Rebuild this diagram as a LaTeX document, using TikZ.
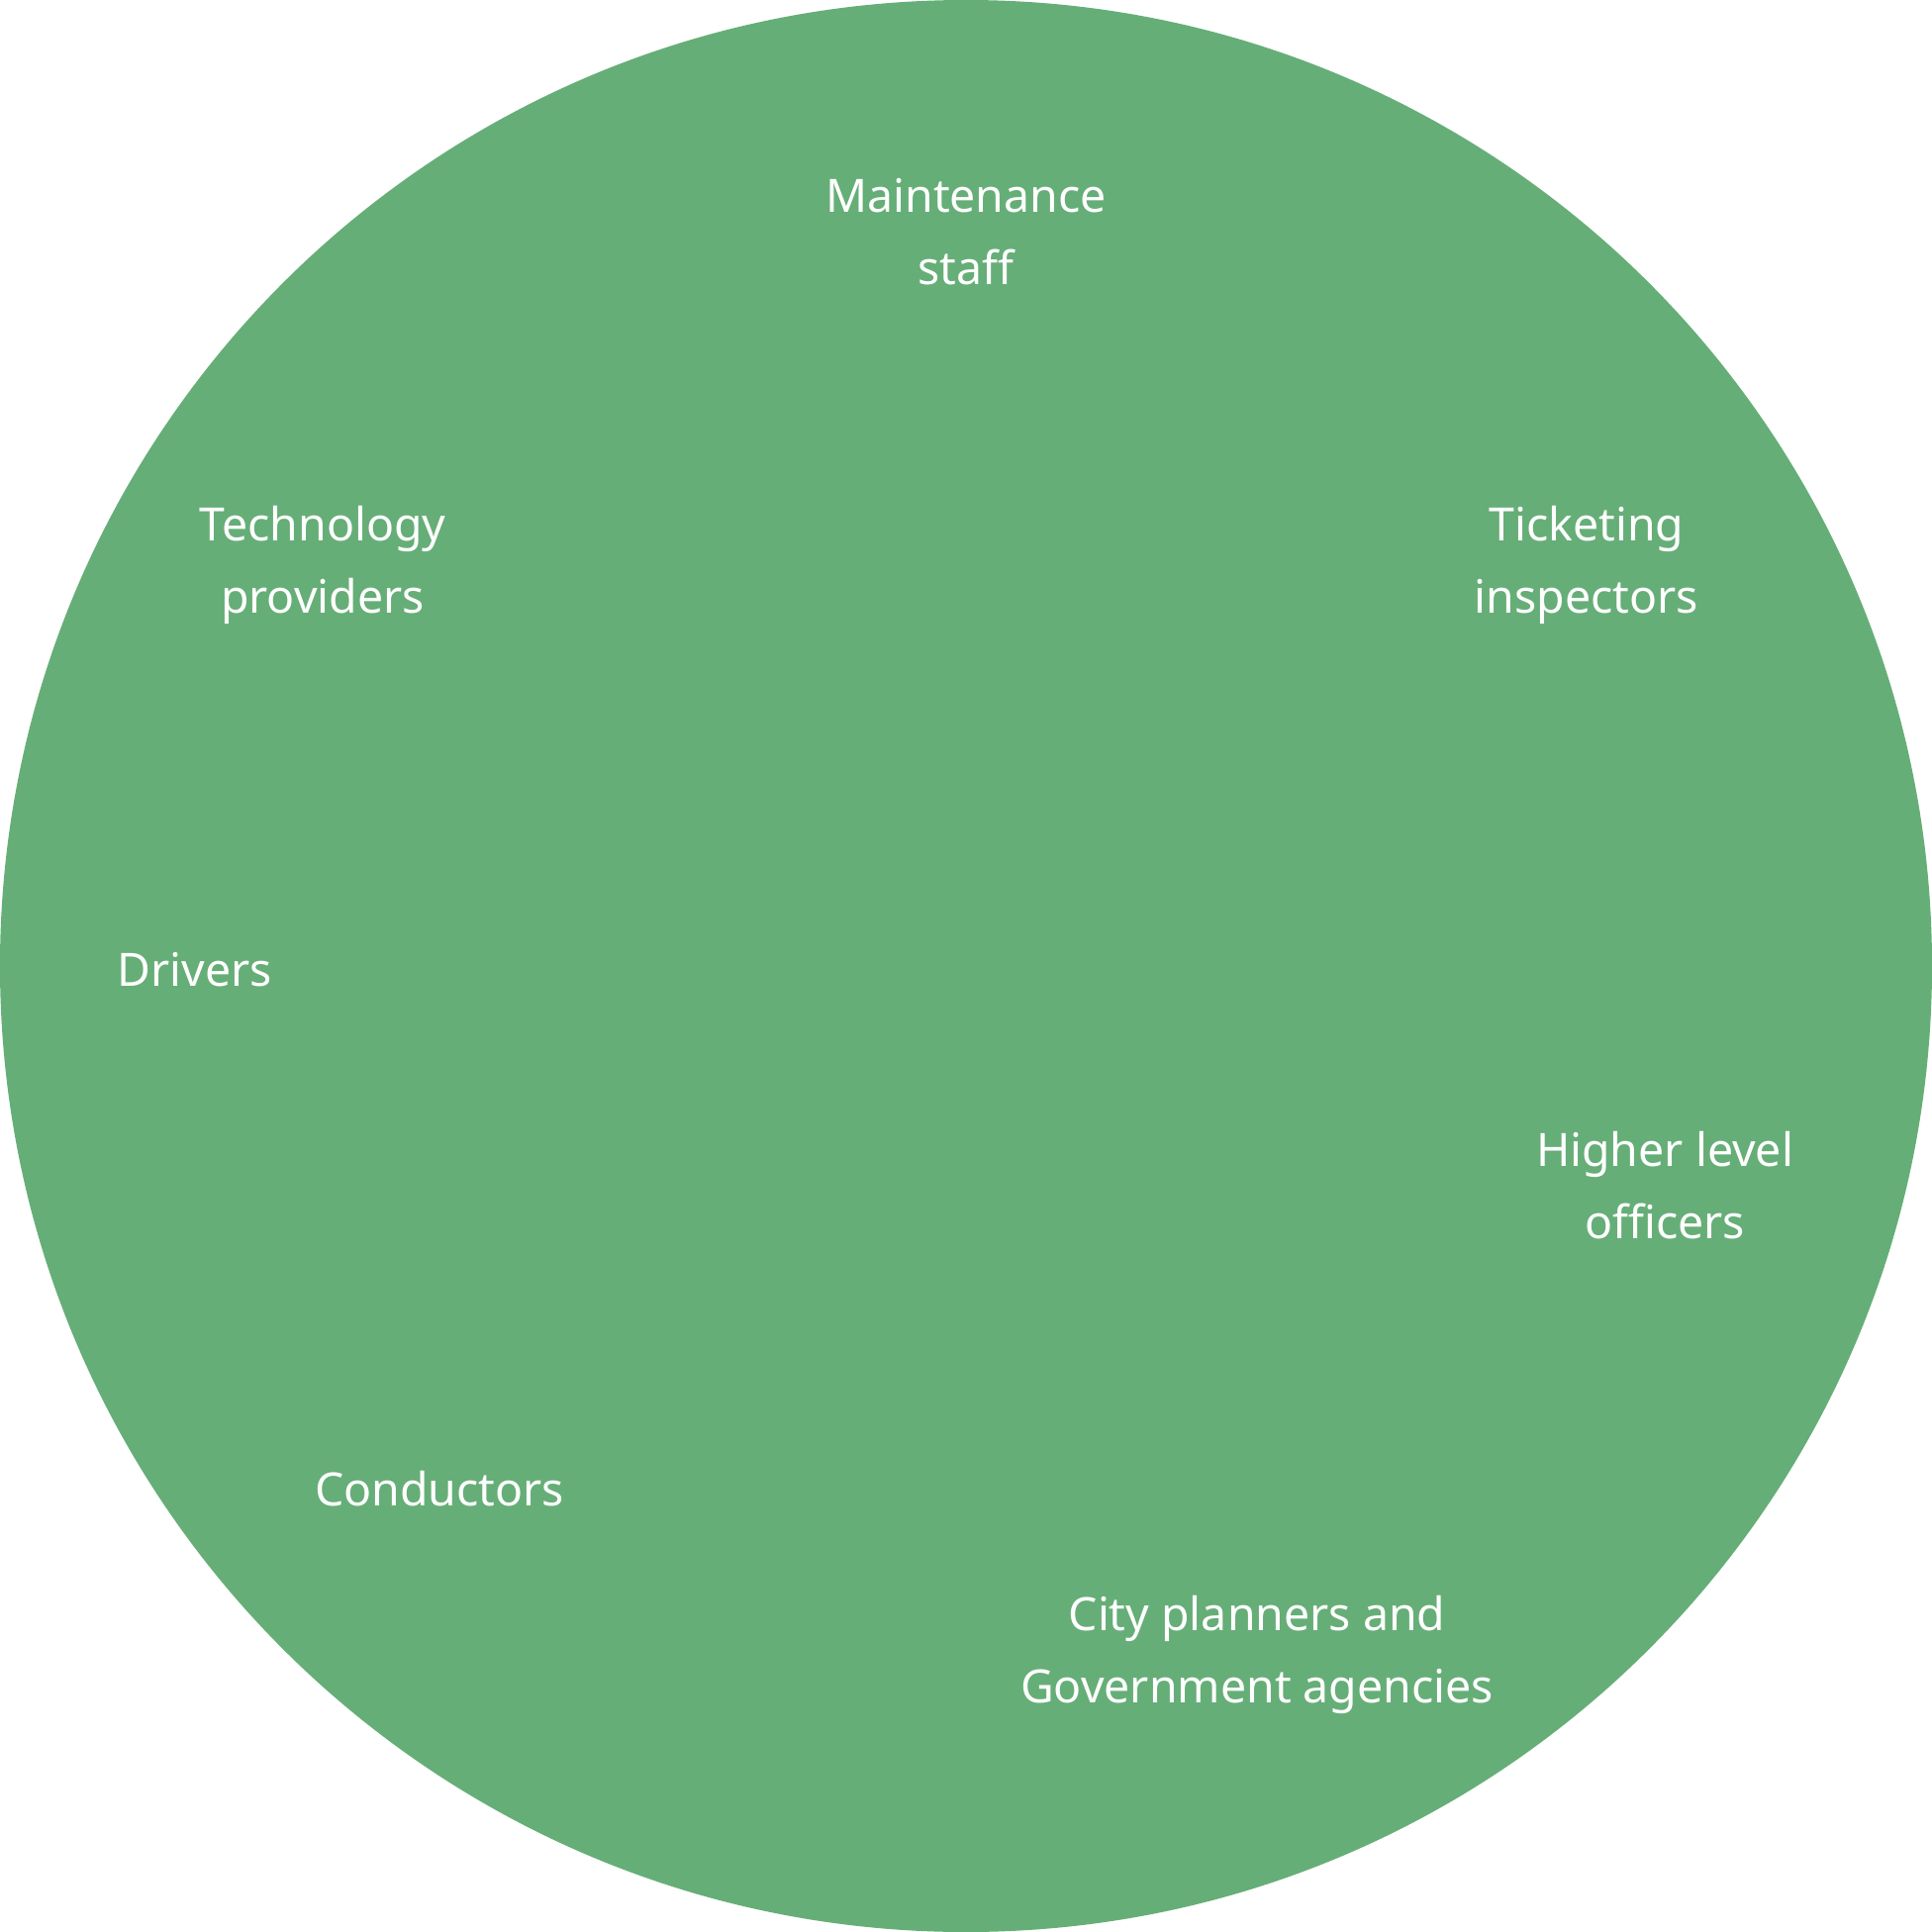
\documentclass[tikz,border=0pt]{standalone}
\usepackage{fontspec}
\setmainfont{Noto Sans}
\definecolor{stakegreen}{HTML}{66AE77}
\tikzset{lbl/.style={text=white, align=center, inner sep=0pt, font=\fontsize{13.2}{20.8}\selectfont}}
\begin{document}
\begin{tikzpicture}[x=0.01cm, y=-0.01cm]
  \useasboundingbox (0,0) rectangle (1952,1952);
  \fill[stakegreen] (976,976) circle[radius=976];
  \node[lbl] (maint) at (976,234) {Maintenance\\staff};
  \node[lbl] (tech) at (326,571) {Technology\\providers};
  \node[lbl] (ticket) at (1603,571) {Ticketing\\inspectors};
  \node[lbl] (drivers) at (197,980) {Drivers};
  \node[lbl] (higher) at (1682,1198) {Higher level\\officers};
  \node[lbl] (conductors) at (444,1504) {Conductors};
  \node[lbl] (city) at (1270,1672) {City planners and\\Government agencies};
\end{tikzpicture}
\end{document}
